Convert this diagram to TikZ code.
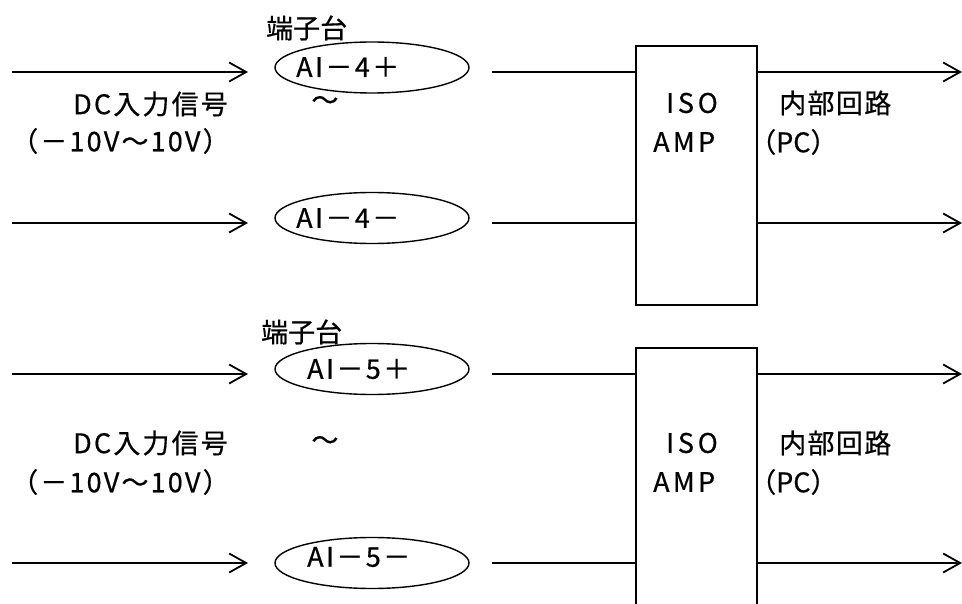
\documentclass[tikz,border=0pt]{standalone}
\usepackage{fontspec}
\setmainfont{Noto Sans CJK JP}[FakeBold=0.6]
\usetikzlibrary{arrows.meta,shapes.geometric}

\tikzset{
  lbl/.style={inner sep=0pt, anchor=west, font=\fontsize{27pt}{31pt}\selectfont},
  spaced/.style={lbl, font=\fontsize{27pt}{31pt}\selectfont\addfontfeature{LetterSpace=#1}},
  term/.style={draw, ellipse, line width=1.4pt, minimum width=194pt, minimum height=51pt, inner sep=0pt},
  ampbox/.style={draw, line width=1.6pt, inner sep=0pt, minimum width=121pt},
  wire/.style={line width=1.8pt},
  sig/.style={line width=1.8pt, -{Straight Barb[length=17pt,width=19pt,line width=1.8pt]}},
}

\begin{document}
\begin{tikzpicture}[x=1pt, y=-1pt]
\useasboundingbox (0,0) rectangle (962,604);
\clip (0,0) rectangle (962,604);

% ---------- channel AI-4 ----------
\node[lbl] (tb1) at (266,28) {端子台};
\node[term] (e1) at (372,67.5) {};
\node[term] (e2) at (372,218) {};
\node[spaced=9] (t1) at (296,67) {AI－4＋};
\node[spaced=9] (t2) at (296,218) {AI－4－};
\node[lbl, anchor=center] (w1) at (325,103) {～};
\node[spaced=8] (dc1) at (73,104) {DC入力信号};
\node[spaced=8] (rg1) at (11,141) {（－10V～10V）};

\node[ampbox, minimum height=259pt] (amp1) at (696.5,175.5) {};
\node[spaced=14] (iso1) at (666,103) {ISO};
\node[spaced=12] (mp1) at (653,142) {AMP};
\node[spaced=5] (pc1) at (779,103) {内部回路};
\node[lbl] (pcn1) at (749,142) {（PC）};

\coordinate (i1a) at (12,72);   \coordinate (i1b) at (248,72);
\coordinate (i2a) at (12,223);  \coordinate (i2b) at (248,223);
\coordinate (m1) at (492,72);   \coordinate (m2) at (492,223);
\coordinate (o1) at (962,72);   \coordinate (o2) at (962,223);

\draw[sig] (i1a) -- (i1b);
\draw[sig] (i2a) -- (i2b);
\draw[wire] (m1) -- (m1 -| amp1.west);
\draw[wire] (m2) -- (m2 -| amp1.west);
\draw[sig] (o1 -| amp1.east) -- (o1);
\draw[sig] (o2 -| amp1.east) -- (o2);

% ---------- channel AI-5 ----------
\node[lbl] (tb2) at (261,332) {端子台};
\node[term] (e3) at (372,369) {};
\node[term] (e4) at (372,563) {};
\node[spaced=9] (t3) at (307,369) {AI－5＋};
\node[spaced=9] (t4) at (307,557) {AI－5－};
\node[lbl, anchor=center] (w2) at (325,443) {～};
\node[spaced=8] (dc2) at (73,443) {DC入力信号};
\node[spaced=8] (rg2) at (11,482) {（－10V～10V）};

\node[ampbox, minimum height=280pt] (amp2) at (696.5,488) {};
\node[spaced=14] (iso2) at (666,443) {ISO};
\node[spaced=12] (mp2) at (653,482) {AMP};
\node[spaced=5] (pc2) at (779,443) {内部回路};
\node[lbl] (pcn2) at (749,482) {（PC）};

\coordinate (i3a) at (12,374);  \coordinate (i3b) at (248,374);
\coordinate (i4a) at (12,563);  \coordinate (i4b) at (248,563);
\coordinate (m3) at (492,374);  \coordinate (m4) at (492,563);
\coordinate (o3) at (962,374);  \coordinate (o4) at (962,563);

\draw[sig] (i3a) -- (i3b);
\draw[sig] (i4a) -- (i4b);
\draw[wire] (m3) -- (m3 -| amp2.west);
\draw[wire] (m4) -- (m4 -| amp2.west);
\draw[sig] (o3 -| amp2.east) -- (o3);
\draw[sig] (o4 -| amp2.east) -- (o4);
\end{tikzpicture}
\end{document}
